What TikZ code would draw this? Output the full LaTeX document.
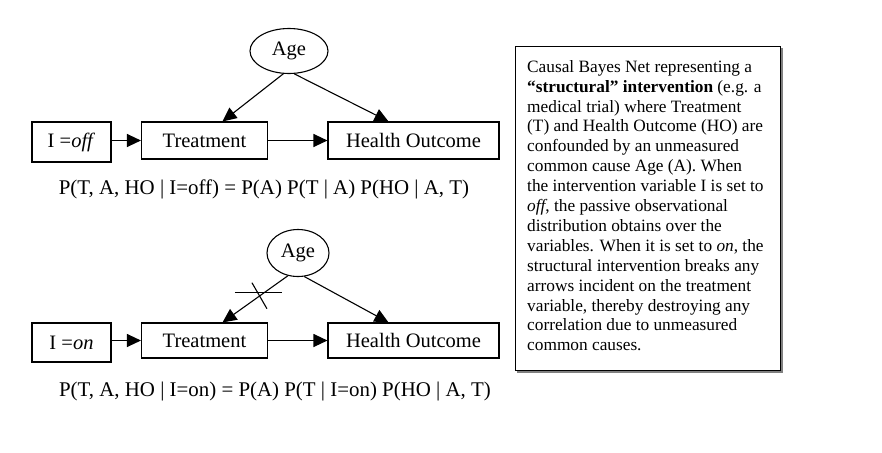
\documentclass[tikz,border=0pt]{standalone}
\usepackage{fontspec}
\setmainfont{Liberation Serif}
\usetikzlibrary{arrows.meta,shapes.geometric}

\tikzset{
  box/.style={draw, line width=1.1pt, rectangle, minimum height=37pt, inner sep=0pt,
    font=\fontsize{20.5pt}{24pt}\selectfont},
  oval/.style={draw, line width=1.1pt, ellipse, inner sep=0pt,
    font=\fontsize{20.5pt}{24pt}\selectfont},
  arr/.style={line width=1.1pt, -{Triangle[length=14pt,width=13pt]}},
  formula/.style={font=\fontsize{20.9pt}{24pt}\selectfont},
  note/.style={draw, line width=1.1pt, fill=white, rectangle, inner sep=0pt},
  notetext/.style={align=left, inner sep=0pt, font=\fontsize{17.3pt}{19.9pt}\selectfont}
}

\begin{document}
\begin{tikzpicture}[x=1pt,y=-1pt]
\useasboundingbox (0,0) rectangle (882,452);

% passive (off) network
\node[box, minimum width=79pt, minimum height=40pt] (ioff) at (71.5,142) {I =\textit{off}};
\node[box, minimum width=126pt] (treat) at (204.5,140.5) {Treatment};
\node[box, minimum width=171pt] (health) at (413.5,140.5) {Health Outcome};
\node[oval, minimum width=78pt, minimum height=45pt] (age) at (289,51) {Age};
\draw[arr] (ioff.east |- treat.west) -- (treat.west);
\draw[arr] (treat) -- (health);
\draw[arr] (age.256) -- ([xshift=18pt]treat.north);
\draw[arr] (age.283) -- ([xshift=-25pt]health.north);
\node[formula] (foff) at (264,189) {P(T, A, HO | I=off) = P(A) P(T | A) P(HO | A, T)};

% structural (on) network
\node[box, minimum width=79pt, minimum height=39pt] (ion) at (71.5,342.5) {I =\textit{on}};
\node[box, minimum width=126pt, minimum height=35pt] (treat2) at (204.5,340.5) {Treatment};
\node[box, minimum width=171pt, minimum height=35pt] (health2) at (413.5,340.5) {Health Outcome};
\node[oval, minimum width=62pt, minimum height=47pt] (age2) at (298,253) {Age};
\draw[arr] (ion.east |- treat2.west) -- (treat2.west);
\draw[arr] (treat2) -- (health2);
\draw[arr] (age2.246) -- ([xshift=18pt]treat2.north)
  coordinate[pos=0.32] (cut);
\draw[arr] (age2.285) -- ([xshift=-25pt]health2.north);
\draw[line width=1.1pt] ([shift={(-32pt,-2pt)}]cut) -- ([shift={(15pt,-2pt)}]cut);
\draw[line width=1.1pt] ([shift={(-15pt,8pt)}]cut) -- ([shift={(0pt,-18pt)}]cut);
\node[formula] (fon) at (275,391) {P(T, A, HO | I=on) = P(A) P(T | I=on) P(HO | A, T)};

% caption box
\draw[gray, line width=1.5pt] (518,49) rectangle (782,372);
\node[note, minimum width=265pt, minimum height=324pt, anchor=north west] (caption) at (515,46) {};
\node[notetext, anchor=north west] (captiontext) at ([shift={(12pt,-14pt)}]caption.north west) {%
Causal Bayes Net representing a\\
\textbf{``structural'' intervention} (e.g. a\\
medical trial) where Treatment\\
(T) and Health Outcome (HO) are\\
confounded by an unmeasured\\
common cause Age (A). When\\
the intervention variable I is set to\\
\textit{off}, the passive observational\\
distribution obtains over the\\
variables. When it is set to \textit{on}, the\\
structural intervention breaks any\\
arrows incident on the treatment\\
variable, thereby destroying any\\
correlation due to unmeasured\\
common causes.};
\end{tikzpicture}
\end{document}
